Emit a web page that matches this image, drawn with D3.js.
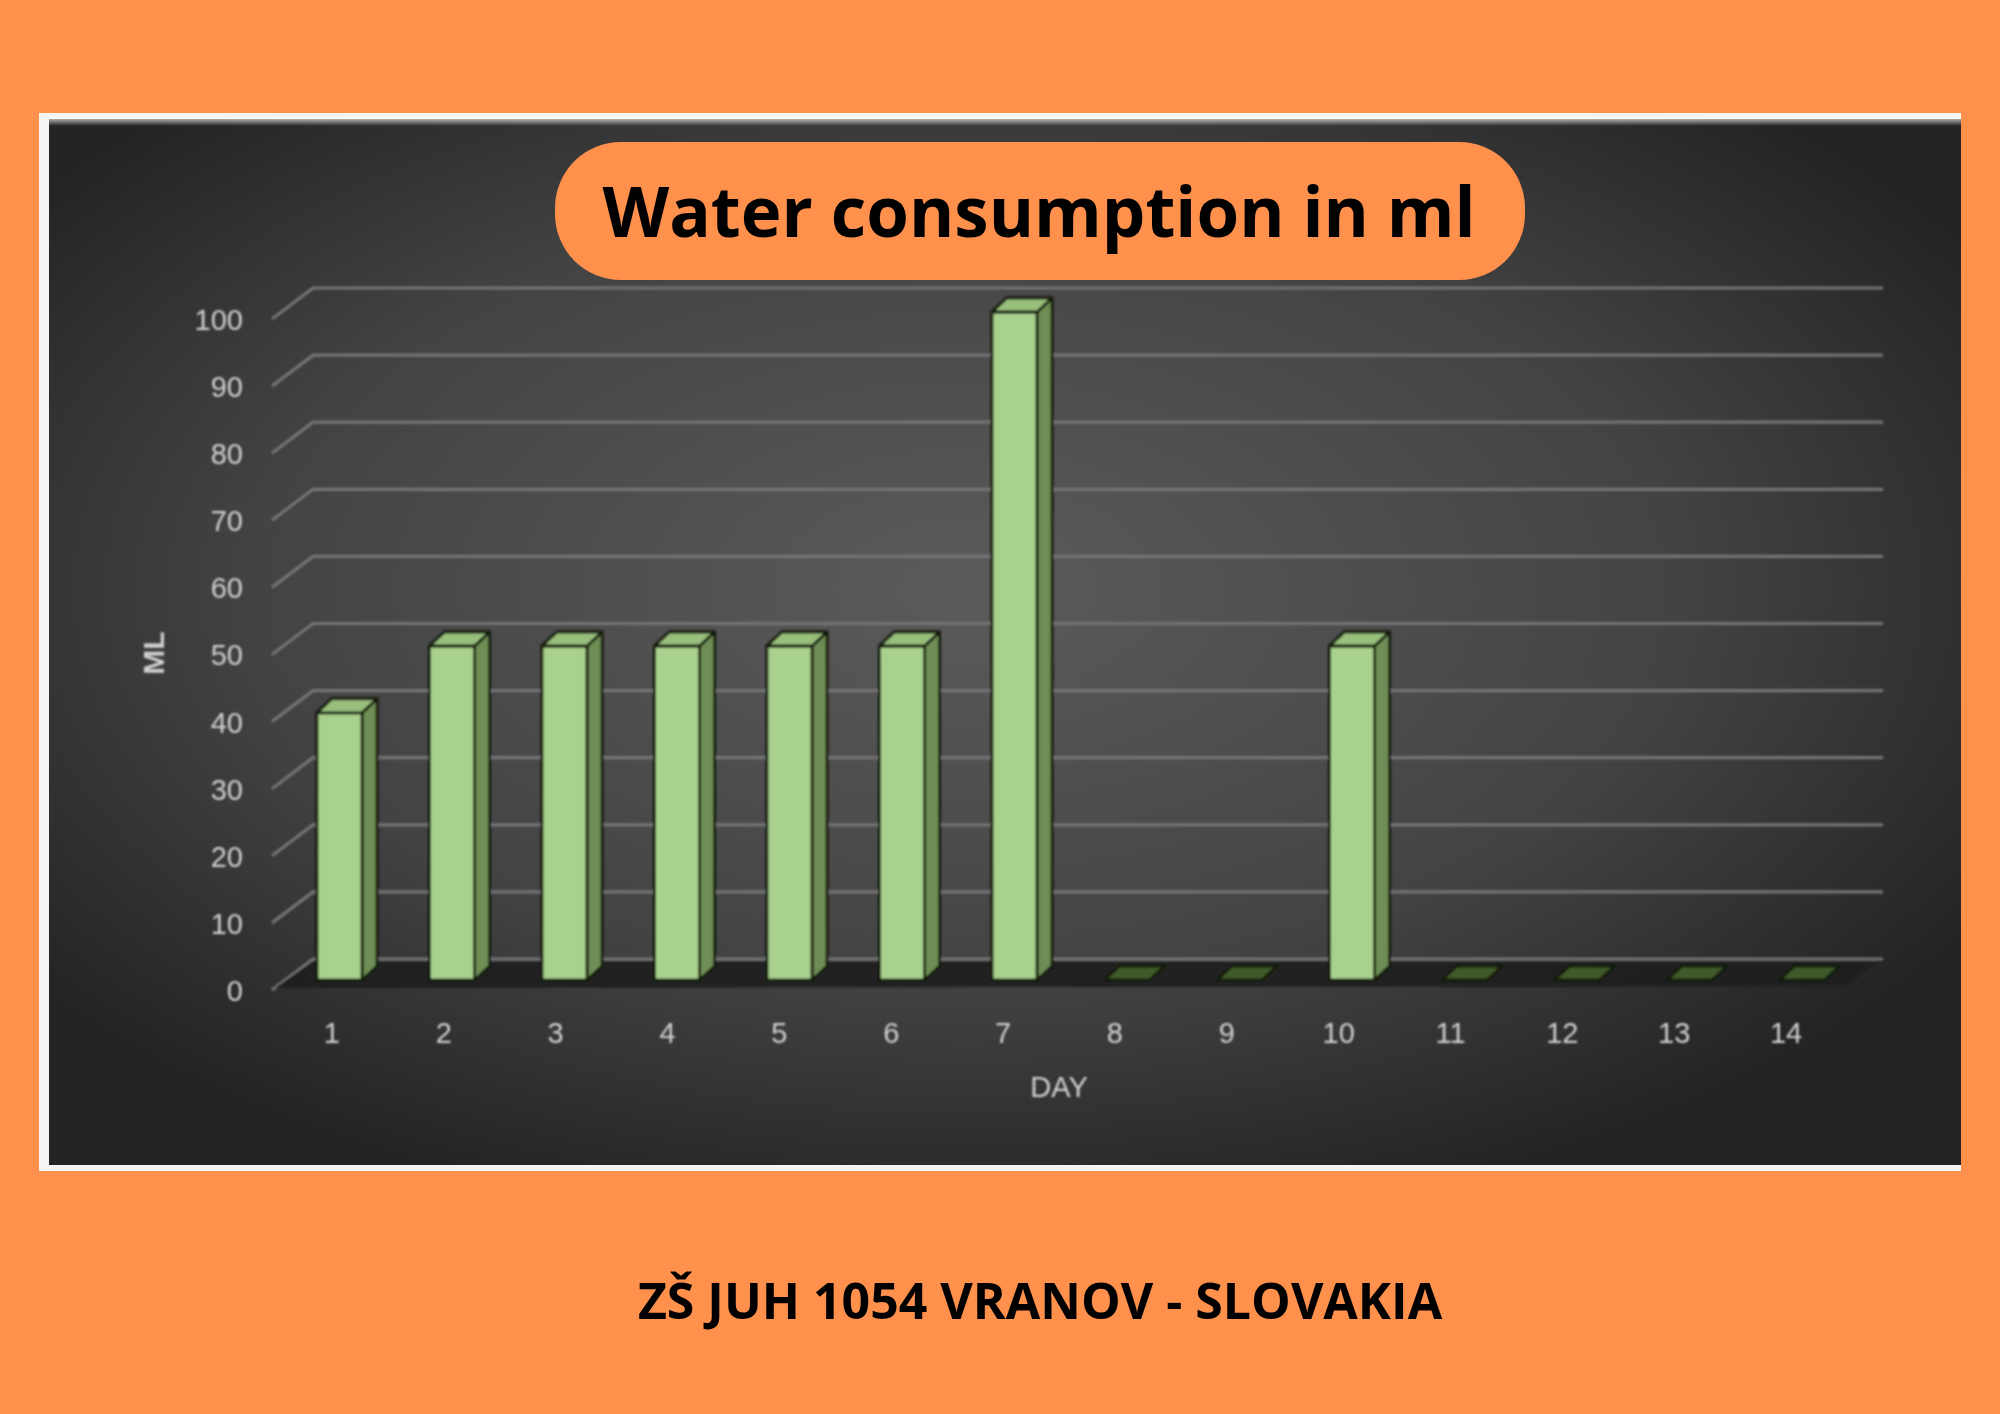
<!DOCTYPE html>
<html>
<head>
<meta charset="utf-8">
<script src="https://cdn.jsdelivr.net/npm/d3@7"></script>
<style>
  html, body { margin: 0; padding: 0; background: #FF914D; }
  svg { display: block; }
</style>
</head>
<body>
<svg id="chart" width="2000" height="1414"></svg>
<script>
// ---- data ----
const days = ["1","2","3","4","5","6","7","8","9","10","11","12","13","14"];
const values = [40, 50, 50, 50, 50, 50, 100, 0, 0, 50, 0, 0, 0, 0];
const yTicks = [0, 10, 20, 30, 40, 50, 60, 70, 80, 90, 100];
const titleText = "Water consumption in ml";
const footerText = "ZŠ JUH 1054 VRANOV - SLOVAKIA";
const xAxisTitle = "DAY";
const yAxisTitle = "ML";

const svg = d3.select("#chart");
const defs = svg.append("defs");

// background
svg.append("rect").attr("width", 2000).attr("height", 1414).attr("fill", "#FF914D");

// panel gradient
const rg = defs.append("radialGradient").attr("id", "panelGrad")
  .attr("cx", "48%").attr("cy", "45%").attr("r", "62%");
rg.append("stop").attr("offset", "0%").attr("stop-color", "#5b5b5b");
rg.append("stop").attr("offset", "60%").attr("stop-color", "#434343");
rg.append("stop").attr("offset", "100%").attr("stop-color", "#232323");

const topEdge = defs.append("linearGradient").attr("id", "topEdge")
  .attr("x1", 0).attr("y1", 0).attr("x2", 0).attr("y2", 1);
topEdge.append("stop").attr("offset", "0%").attr("stop-color", "#ffffff");
topEdge.append("stop").attr("offset", "100%").attr("stop-color", "#ffffff").attr("stop-opacity", 0);

const blur = defs.append("filter").attr("id", "soft").attr("x", "-5%").attr("y", "-5%").attr("width", "110%").attr("height", "110%");
blur.append("feGaussianBlur").attr("stdDeviation", 1.2);

// panel frame
svg.append("rect").attr("x", 39).attr("y", 113).attr("width", 1922).attr("height", 1058).attr("fill", "#f4f4f4");
svg.append("rect").attr("x", 49).attr("y", 119).attr("width", 1912).attr("height", 1046).attr("fill", "url(#panelGrad)");
svg.append("rect").attr("x", 49).attr("y", 117).attr("width", 1912).attr("height", 9).attr("fill", "url(#topEdge)").attr("opacity", 0.8);

// scales
const yGrid = d3.scaleLinear().domain([0, 100]).range([959, 288]);
const yBar = d3.scaleLinear().domain([0, 100]).range([980, 312]);
const xLabel = d3.scaleBand().domain(days).range([276, 1842]);
const xBar = d3.scaleBand().domain(days).range([283.25, 1858.25]);

const frontW = 45, depthX = 15, depthY = -14;
const gridLeft = 313, gridRight = 1883, diagDX = -41, diagDY = 31;

const g = svg.append("g").attr("filter", "url(#soft)");

// gridlines
const grid = g.append("g");
grid.selectAll("path.grid").data(yTicks).join("path")
  .attr("class", "grid")
  .attr("d", v => `M${gridLeft + diagDX},${yGrid(v) + diagDY} L${gridLeft},${yGrid(v)} L${gridRight},${yGrid(v)}`)
  .attr("fill", "none").attr("stroke", "#747474").attr("stroke-width", 3.2);

// floor
g.append("path")
  .attr("d", `M${gridLeft},${yGrid(0) + 2} L${gridRight - 6},${yGrid(0) + 2} L${1845},${yGrid(0) + 27} L${gridLeft + diagDX + 3},${yGrid(0) + 29} Z`)
  .attr("fill", "#1c1c1c").attr("opacity", 0.9);

// bars
const bars = g.append("g");
const barData = days.map((d, i) => ({ day: d, value: values[i] }));
const bg = bars.selectAll("g.bar").data(barData).join("g").attr("class", "bar");

const x0 = d => xBar(d.day) + (xBar.bandwidth() - frontW) / 2;
const x1 = d => x0(d) + frontW;
const outline = "#121b0c";

// side face
bg.filter(d => d.value > 0).append("path")
  .attr("d", d => {
    const yt = yBar(d.value), yb = yBar(0);
    return `M${x1(d)},${yt} L${x1(d) + depthX},${yt + depthY} L${x1(d) + depthX},${yb + depthY} L${x1(d)},${yb} Z`;
  })
  .attr("fill", "#6e8e55").attr("stroke", outline).attr("stroke-width", 2.8).attr("stroke-linejoin", "round");

// front face
bg.filter(d => d.value > 0).append("rect")
  .attr("x", d => x0(d)).attr("y", d => yBar(d.value))
  .attr("width", frontW).attr("height", d => yBar(0) - yBar(d.value))
  .attr("fill", "#a9d18e").attr("stroke", outline).attr("stroke-width", 2.8);

// top face
bg.append("path")
  .attr("d", d => {
    const yt = yBar(d.value);
    return `M${x0(d)},${yt} L${x0(d) + depthX},${yt + depthY} L${x1(d) + depthX},${yt + depthY} L${x1(d)},${yt} Z`;
  })
  .attr("fill", d => d.value > 0 ? "#98bf7c" : "#3f5a2c")
  .attr("stroke", outline).attr("stroke-width", 2.8).attr("stroke-linejoin", "round");

// y axis labels
const yAxis = d3.axisLeft(yGrid).tickValues(yTicks).tickSize(0).tickPadding(0);
const yg = g.append("g").attr("transform", `translate(243, ${diagDY})`).call(yAxis);
yg.select(".domain").remove();
yg.selectAll("text")
  .attr("font-family", "'Liberation Sans', Arial, sans-serif")
  .attr("font-size", 29).attr("fill", "#d2d2d2").attr("dy", "0.36em");

// x axis labels
const xAxis = d3.axisBottom(xLabel).tickSize(0).tickPadding(0);
const xg = g.append("g").attr("transform", "translate(0, 1033)").call(xAxis);
xg.select(".domain").remove();
xg.selectAll("text")
  .attr("font-family", "'Liberation Sans', Arial, sans-serif")
  .attr("font-size", 29).attr("fill", "#d2d2d2").attr("dy", "0.36em");

// axis titles
g.append("text").attr("x", 1059).attr("y", 1087).attr("dy", "0.36em")
  .attr("text-anchor", "middle")
  .attr("font-family", "'Liberation Sans', Arial, sans-serif")
  .attr("font-size", 29).attr("fill", "#d2d2d2").text(xAxisTitle);

g.append("text").attr("transform", "translate(153, 653) rotate(-90)").attr("dy", "0.36em")
  .attr("text-anchor", "middle")
  .attr("font-family", "'Liberation Sans', Arial, sans-serif").attr("font-weight", "bold")
  .attr("font-size", 30).attr("fill", "#d2d2d2").text(yAxisTitle);

// title pill
svg.append("rect").attr("x", 555).attr("y", 142).attr("width", 970).attr("height", 138)
  .attr("rx", 66).attr("ry", 66).attr("fill", "#FF914D");
svg.append("text").attr("x", 1039).attr("y", 237).attr("text-anchor", "middle")
  .attr("font-family", "'Open Sans', sans-serif").attr("font-weight", "bold")
  .attr("font-size", 69).attr("fill", "#000").text(titleText);

// footer
svg.append("text").attr("x", 1040).attr("y", 1319).attr("text-anchor", "middle")
  .attr("font-family", "'Open Sans', sans-serif").attr("font-weight", "bold")
  .attr("font-size", 50).attr("fill", "#000").text(footerText);
</script>
</body>
</html>
